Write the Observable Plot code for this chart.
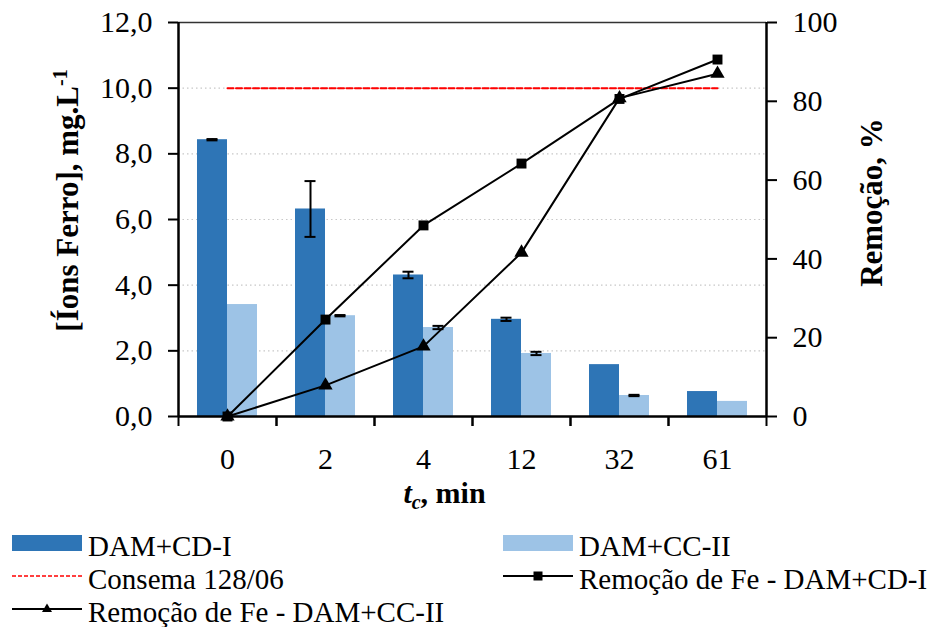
<!DOCTYPE html>
<html>
<head>
<meta charset="utf-8">
<script src="https://cdn.jsdelivr.net/npm/d3@7"></script>
<script src="https://cdn.jsdelivr.net/npm/@observablehq/plot@0.6"></script>
<style>
  html, body { margin: 0; padding: 0; background: #fff; overflow: hidden; }
  #wrap { width: 940px; height: 627px; position: relative; font-family: "Liberation Serif", "Times New Roman", serif; color: #000; }
  #chart { height: 520px; }
  #chart svg { display: block; }
  #legend { position: relative; width: 940px; height: 107px; }
  .lg { position: absolute; font-size: 29px; line-height: 26px; white-space: nowrap; }
  .sw { position: absolute; }
</style>
</head>
<body>
<div id="wrap">
  <div id="chart"></div>
  <div id="legend"></div>
</div>
<script>
// ---- data ----
const categories = ["0", "2", "4", "12", "32", "61"];           // t_c, min
const ferroCDI   = [8.43, 6.32, 4.31, 2.96, 1.58, 0.76];        // DAM+CD-I, mg/L
const ferroCCII  = [3.41, 3.07, 2.71, 1.92, 0.64, 0.46];        // DAM+CC-II, mg/L
const errCDI     = [0.02, 0.85, 0.10, 0.05, 0, 0];
const errCCII    = [0, 0.02, 0.05, 0.05, 0.02, 0];
const remCDI     = [0, 24.6, 48.5, 64.2, 80.6, 90.6];           // Remoção de Fe - DAM+CD-I, %
const remCCII    = [0, 7.9, 17.8, 41.6, 80.8, 87.0];            // Remoção de Fe - DAM+CC-II, %
const consema    = 10.0;                                        // Consema 128/06 limit
const leftTicks  = [0, 2, 4, 6, 8, 10, 12];
const rightTicks = [0, 20, 40, 60, 80, 100];

const yMax = 12, rMax = 100;
const k = yMax / rMax; // right axis (%) mapped onto left y scale

const data = categories.map((c, i) => ({
  cat: c, cdI: ferroCDI[i], ccII: ferroCCII[i],
  eCdI: errCDI[i], eCcII: errCCII[i],
  rCdI: remCDI[i], rCcII: remCCII[i]
}));

const darkBlue = "#2E75B6", lightBlue = "#9DC3E6";
const leftTitle = "[Íons Ferro], mg.L-1";
const rightTitle = "Remoção, %";
const xTitle = "tc, min";

const chart = Plot.plot({
  width: 940,
  height: 520,
  marginTop: 22,
  marginBottom: 104,
  marginLeft: 178,
  marginRight: 174,
  style: { fontFamily: "'Liberation Serif', 'Times New Roman', serif", fontSize: "30px", color: "#000", background: "#fff", overflow: "visible" },
  x: { type: "band", domain: categories, padding: 0, label: null },
  y: { domain: [0, yMax], label: null },
  marks: [
    Plot.gridY(leftTicks.filter(t => t > 0 && t < yMax), { stroke: "#c8c8c8", strokeOpacity: 1, strokeDasharray: "1.5,3", strokeWidth: 1.2 }),
    Plot.barY(data, { x: "cat", y: "cdI", fill: darkBlue, insetLeft: 19, insetRight: 49 }),
    Plot.barY(data, { x: "cat", y: "ccII", fill: lightBlue, insetLeft: 49, insetRight: 19 }),
    // error bars
    Plot.ruleX(data.filter(d => d.eCdI > 0), { x: "cat", y1: d => d.cdI - d.eCdI, y2: d => d.cdI + d.eCdI, dx: -15, strokeWidth: 2 }),
    Plot.tickY(data.filter(d => d.eCdI > 0), { x: "cat", y: d => d.cdI - d.eCdI, dx: -15, insetLeft: 43.5, insetRight: 43.5, strokeWidth: 2 }),
    Plot.tickY(data.filter(d => d.eCdI > 0), { x: "cat", y: d => d.cdI + d.eCdI, dx: -15, insetLeft: 43.5, insetRight: 43.5, strokeWidth: 2 }),
    Plot.ruleX(data.filter(d => d.eCcII > 0), { x: "cat", y1: d => d.ccII - d.eCcII, y2: d => d.ccII + d.eCcII, dx: 15, strokeWidth: 2 }),
    Plot.tickY(data.filter(d => d.eCcII > 0), { x: "cat", y: d => d.ccII - d.eCcII, dx: 15, insetLeft: 43.5, insetRight: 43.5, strokeWidth: 2 }),
    Plot.tickY(data.filter(d => d.eCcII > 0), { x: "cat", y: d => d.ccII + d.eCcII, dx: 15, insetLeft: 43.5, insetRight: 43.5, strokeWidth: 2 }),
    // Consema limit
    Plot.line(data, { x: "cat", y: () => consema, stroke: "#FF0000", strokeWidth: 2, strokeDasharray: "6,2.5" }),
    // removal lines (right axis)
    Plot.line(data, { x: "cat", y: d => d.rCdI * k, stroke: "#000", strokeWidth: 2 }),
    Plot.line(data, { x: "cat", y: d => d.rCcII * k, stroke: "#000", strokeWidth: 2 }),
    Plot.dot(data, { x: "cat", y: d => d.rCdI * k, symbol: "square", fill: "#000", r: 5.6 }),
    Plot.dot(data, { x: "cat", y: d => d.rCcII * k, symbol: "triangle", fill: "#000", r: 5.3 }),
    // frame lines
    Plot.ruleY([yMax], { stroke: "#333", strokeWidth: 1.6 }),
    Plot.ruleY([0], { stroke: "#000", strokeWidth: 2.5 }),
    Plot.ruleX([categories[0]], { dx: -49, y1: 0, y2: yMax, stroke: "#000", strokeWidth: 2.5 }),
    Plot.ruleX([categories[categories.length - 1]], { dx: 49, y1: 0, y2: yMax, stroke: "#000", strokeWidth: 2.5 }),
    // axes
    Plot.axisY(leftTicks, { anchor: "left", tickSize: 10, tickPadding: 16, strokeWidth: 2, tickFormat: d => d.toFixed(1).replace(".", ","), label: null }),
    Plot.axisY(rightTicks.map(v => v * k), { anchor: "right", tickSize: 10, tickPadding: 16, strokeWidth: 2, tickFormat: d => String(Math.round(d / k)), label: null }),
    Plot.axisX({ tickSize: 0, tickPadding: 31, label: null }),
    Plot.axisX({ tickSize: 10, tickFormat: () => "", dx: 49, strokeWidth: 2, label: null }),
    Plot.axisX({ tickSize: 10, tickFormat: () => "", dx: -49, strokeWidth: 2, label: null }),
    // titles
    Plot.text([leftTitle], { frameAnchor: "left", dx: -110, dy: -19, rotate: -90, fontWeight: "bold", fontSize: 31, textAnchor: "middle" }),
    Plot.text([rightTitle], { frameAnchor: "right", dx: 106, dy: -17, rotate: -90, fontWeight: "bold", fontSize: 31, textAnchor: "middle" }),
    Plot.text([xTitle], { frameAnchor: "bottom", dx: -28, dy: 86, fontWeight: "bold", fontSize: 30, textAnchor: "middle" })
  ]
});
document.getElementById("chart").appendChild(chart);

// rich-text formatting for titles (superscript / italic subscript)
const svgNS = "http://www.w3.org/2000/svg";
chart.querySelectorAll("text").forEach(t => {
  const s = t.textContent;
  if (s === leftTitle) {
    t.textContent = "";
    const a = document.createElementNS(svgNS, "tspan"); a.textContent = "[Íons Ferro], mg.L";
    const b = document.createElementNS(svgNS, "tspan"); b.textContent = "-1"; b.setAttribute("font-size", "20"); b.setAttribute("dy", "-11");
    t.appendChild(a); t.appendChild(b);
  } else if (s === xTitle) {
    t.textContent = "";
    const a = document.createElementNS(svgNS, "tspan"); a.textContent = "t"; a.setAttribute("font-style", "italic");
    const b = document.createElementNS(svgNS, "tspan"); b.textContent = "c"; b.setAttribute("font-style", "italic"); b.setAttribute("font-size", "20"); b.setAttribute("dy", "6");
    const c = document.createElementNS(svgNS, "tspan"); c.textContent = ", min"; c.setAttribute("dy", "-6");
    t.appendChild(a); t.appendChild(b); t.appendChild(c);
  }
});

// ---- legend ----
const legend = document.getElementById("legend");
const items = [
  { label: "DAM+CD-I", kind: "rect", color: darkBlue, x: 12, cy: 23 },
  { label: "DAM+CC-II", kind: "rect", color: lightBlue, x: 503, cy: 23 },
  { label: "Consema 128/06", kind: "dash", color: "#FF0000", x: 12, cy: 56 },
  { label: "Remoção de Fe - DAM+CD-I", kind: "square", color: "#000", x: 503, cy: 56 },
  { label: "Remoção de Fe - DAM+CC-II", kind: "triangle", color: "#000", x: 12, cy: 89 }
];
items.forEach(it => {
  const sw = document.createElementNS(svgNS, "svg");
  sw.setAttribute("width", 70); sw.setAttribute("height", 20);
  sw.setAttribute("class", "sw");
  sw.style.left = it.x + "px"; sw.style.top = (it.cy - 10) + "px";
  let inner = "";
  if (it.kind === "rect") inner = `<rect x="0" y="2" width="70" height="16" fill="${it.color}"/>`;
  else if (it.kind === "dash") inner = `<line x1="0" x2="70" y1="10" y2="10" stroke="${it.color}" stroke-width="1.6" stroke-dasharray="4,2"/>`;
  else if (it.kind === "square") inner = `<line x1="0" x2="70" y1="10" y2="10" stroke="#000" stroke-width="2"/><rect x="30.5" y="5.5" width="9" height="9" fill="#000"/>`;
  else inner = `<line x1="0" x2="70" y1="10" y2="10" stroke="#000" stroke-width="2"/><path d="M35,4.5 L40,13 L30,13 Z" fill="#000"/>`;
  sw.innerHTML = inner;
  legend.appendChild(sw);
  const tx = document.createElement("div");
  tx.className = "lg";
  tx.textContent = it.label;
  tx.style.left = (it.x + 76) + "px";
  tx.style.top = (it.cy - 13 + 3) + "px";
  legend.appendChild(tx);
});
</script>
</body>
</html>
